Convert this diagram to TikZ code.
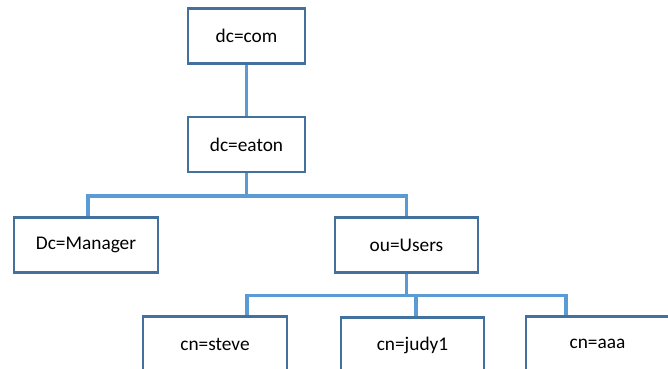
\documentclass[tikz,border=0pt]{standalone}
\usepackage{fontspec}
\setmainfont{Carlito}
\usepackage{tikz}
\usetikzlibrary{positioning, calc}
\definecolor{boxedge}{RGB}{65,113,156}
\definecolor{linkblue}{RGB}{91,155,213}
\tikzset{
  entry/.style={rectangle, draw=boxedge, fill=white, line width=1.8pt,
    minimum width=3.5cm, minimum height=1.65cm, inner sep=0pt,
    font=\fontsize{16.5}{19}\selectfont},
  wideentry/.style={entry, minimum width=4.3cm},
  link/.style={draw=linkblue, line width=2.8pt}
}

\begin{document}
\begin{tikzpicture}[x=0.03cm, y=-0.03cm]
  % Page frame
  \useasboundingbox (0,0) rectangle (668,369);
  \clip (0,0) rectangle (668,369);

  % Entries of the tree
  \node[entry] (com) at (246.5,36) {dc=com};
  \node[entry] (eaton) at (246.5,144.5) {dc=eaton};
  \node[wideentry] (manager) at (86,245) {Dc=Manager};
  \node[wideentry] (users) at (406.5,245) {ou=Users};
  \node[wideentry] (steve) at (215,344) {cn=steve};
  \node[wideentry] (judy) at (412.5,345) {cn=judy1};
  \node[wideentry] (aaa) at (597.5,344) {cn=aaa};

  % Links
  \draw[link] (com.south) -- (eaton.north);
  \draw[link] (eaton.south) -- ++(0,23) coordinate (busA);
  \draw[link] (busA) -| ($(manager.north)+(2,0)$);
  \draw[link] (busA) -| (users.north);
  \draw[link] (users.south) -- ++(0,22) coordinate (busB);
  \draw[link] (busB) -| ($(steve.north)+(32,0)$);
  \draw[link] (busB) -| ($(judy.north)+(3.5,0)$);
  \draw[link] (busB) -| ($(aaa.north)+(-31.5,0)$);
\end{tikzpicture}
\end{document}
